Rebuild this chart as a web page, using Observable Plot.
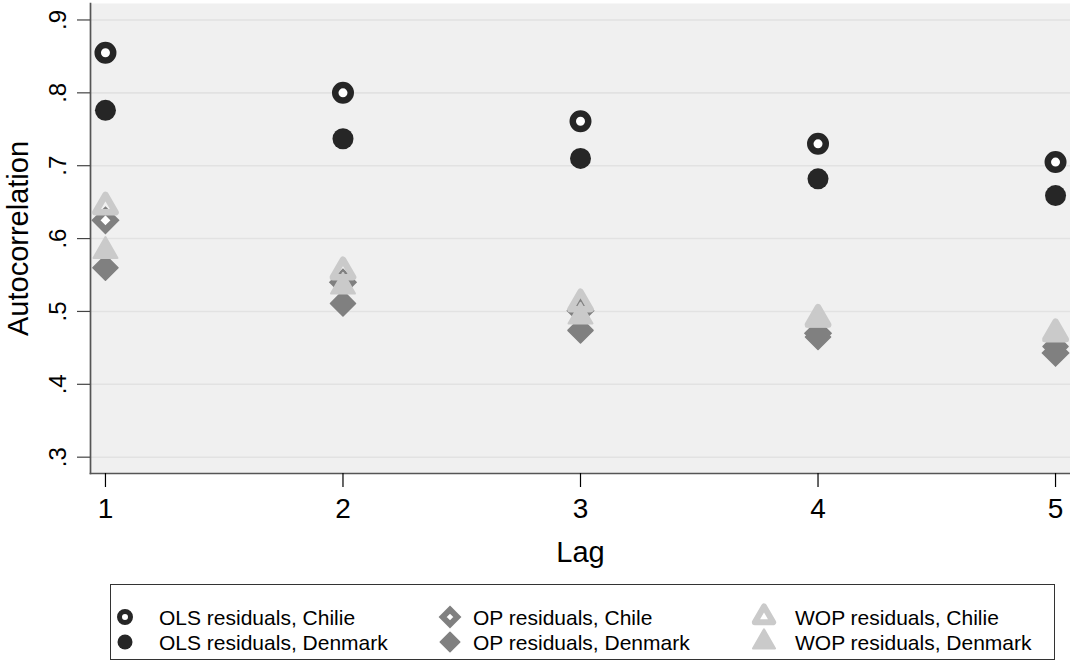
<!DOCTYPE html>
<html>
<head>
<meta charset="utf-8">
<script src="https://cdn.jsdelivr.net/npm/d3@7"></script>
<script src="https://cdn.jsdelivr.net/npm/@observablehq/plot@0.6"></script>
<style>
  html, body { margin: 0; padding: 0; background: white; }
  #wrap { position: relative; width: 1070px; height: 662px; overflow: hidden; font-family: "Liberation Sans", Arial, Helvetica, sans-serif; }
  #legend { position: absolute; left: 110px; top: 584px; width: 945px; height: 76px; box-sizing: border-box; border: 1px solid #333; background: white; }
  #legend svg { display: block; }
</style>
</head>
<body>
<div id="wrap"></div>
<script>
const lags = [1, 2, 3, 4, 5];
const olsChile   = [0.855, 0.800, 0.761, 0.730, 0.705];
const olsDenmark = [0.776, 0.737, 0.710, 0.682, 0.659];
const opChile    = [0.625, 0.540, 0.501, 0.470, 0.443];
const opDenmark  = [0.560, 0.511, 0.474, 0.465, 0.452];
const wopChile   = [0.644, 0.555, 0.511, 0.490, 0.470];
const wopDenmark = [0.583, 0.534, 0.493, 0.489, 0.469];
const yTicks = [0.3, 0.4, 0.5, 0.6, 0.7, 0.8, 0.9];
const legendLabels = [
  ["OLS residuals, Chilie", "OLS residuals, Denmark"],
  ["OP residuals, Chile", "OP residuals, Denmark"],
  ["WOP residuals, Chilie", "WOP residuals, Denmark"]
];

const cOLS = "#262626", cOP = "#808080", cWOP = "#cacaca";
const rows = vals => lags.map((lag, i) => ({lag, value: vals[i]}));
const fmt = d => d.toFixed(1).replace(/^0/, "");
const font = "'Liberation Sans', Arial, Helvetica, sans-serif";

const chart = Plot.plot({
  width: 1070,
  height: 580,
  marginLeft: 90,
  marginRight: 0,
  marginTop: 3,
  marginBottom: 107,
  x: {domain: [lags[0] - 0.063, lags[lags.length - 1] + 0.063]},
  y: {domain: [yTicks[0] - 0.0224, yTicks[yTicks.length - 1] + 0.0226]},
  style: {fontFamily: font, background: "white", color: "black", overflow: "visible"},
  marks: [
    Plot.frame({fill: "#f0f0f0", stroke: "none"}),
    Plot.gridY(yTicks, {stroke: "#e2e2e2", strokeOpacity: 1, strokeWidth: 1.6}),
    Plot.frame({anchor: "left", stroke: "#555", strokeWidth: 1.7}),
    Plot.frame({anchor: "bottom", stroke: "#555", strokeWidth: 1.7}),
    Plot.axisY(yTicks, {tickSize: 13, tickFormat: () => "", label: null, stroke: "#444", strokeWidth: 1.2}),
    Plot.text(yTicks, {y: d => d, text: fmt, frameAnchor: "left", dx: -32, rotate: -90, fontSize: 24, textAnchor: "middle", lineAnchor: "middle"}),
    Plot.axisX(lags, {tickSize: 14, tickPadding: 11, fontSize: 28, label: null, strokeWidth: 1.2, tickFormat: d => String(d)}),
    Plot.text(["Lag"], {text: d => d, frameAnchor: "bottom", dy: 79, fontSize: 29, textAnchor: "middle", lineAnchor: "middle"}),
    Plot.text(["Autocorrelation"], {text: d => d, frameAnchor: "left", dx: -72, rotate: -90, fontSize: 29, textAnchor: "middle", lineAnchor: "middle"}),
    // OLS
    Plot.dot(rows(olsChile), {x: "lag", y: "value", r: 7.75, fill: "white", stroke: cOLS, strokeWidth: 6.5}),
    Plot.dot(rows(olsDenmark), {x: "lag", y: "value", r: 10.5, fill: cOLS, stroke: "none"}),
    // OP
    Plot.dot(rows(opChile), {x: "lag", y: "value", symbol: "diamond2", r: 8.6, fill: "white", stroke: cOP, strokeWidth: 6.5, strokeLinejoin: "miter"}),
    Plot.dot(rows(opDenmark), {x: "lag", y: "value", symbol: "diamond2", r: 11.3, fill: cOP, stroke: cOP, strokeWidth: 1.5, strokeLinejoin: "round"}),
    // WOP
    Plot.dot(rows(wopChile), {x: "lag", y: "value", symbol: "triangle", r: 7.5, fill: "none", stroke: cWOP, strokeWidth: 6.5, strokeLinejoin: "round"}),
    Plot.dot(rows(wopDenmark), {x: "lag", y: "value", symbol: "triangle", r: 8.9, fill: cWOP, stroke: cWOP, strokeWidth: 2, strokeLinejoin: "round"})
  ]
});

const wrap = document.getElementById("wrap");
wrap.appendChild(chart);

// Legend below the chart
const legend = d3.select(wrap).append("div").attr("id", "legend");
const lsvg = legend.append("svg").attr("width", 943).attr("height", 74)
  .style("font-family", font).style("font-size", "21px");
const rowY = [32, 57];
const markX = [14, 339, 653];
const textX = [48, 362, 684];
const sym = (type, size) => d3.symbol(type, size)();
const area = r => Math.PI * r * r;

const markers = [
  [
    g => g.append("circle").attr("r", 5.5).attr("fill", "white").attr("stroke", cOLS).attr("stroke-width", 5),
    g => g.append("circle").attr("r", 7.5).attr("fill", cOLS)
  ],
  [
    g => g.append("path").attr("d", sym(d3.symbolDiamond2, area(6.6))).attr("fill", "white").attr("stroke", cOP).attr("stroke-width", 5.8).attr("stroke-linejoin", "miter"),
    g => g.append("path").attr("d", sym(d3.symbolDiamond2, area(8.8))).attr("fill", cOP).attr("stroke", cOP).attr("stroke-width", 1.5).attr("stroke-linejoin", "round")
  ],
  [
    g => g.append("path").attr("d", sym(d3.symbolTriangle, area(6.8))).attr("fill", "white").attr("stroke", cWOP).attr("stroke-width", 6).attr("stroke-linejoin", "round"),
    g => g.append("path").attr("d", sym(d3.symbolTriangle, area(8.2))).attr("fill", cWOP).attr("stroke", cWOP).attr("stroke-width", 2).attr("stroke-linejoin", "round")
  ]
];

legendLabels.forEach((col, ci) => {
  col.forEach((label, ri) => {
    const g = lsvg.append("g").attr("transform", `translate(${markX[ci]},${rowY[ri]})`);
    markers[ci][ri](g);
    lsvg.append("text").attr("x", textX[ci]).attr("y", rowY[ri]).attr("dy", "0.36em")
      .attr("fill", "black").text(label);
  });
});
</script>
</body>
</html>
